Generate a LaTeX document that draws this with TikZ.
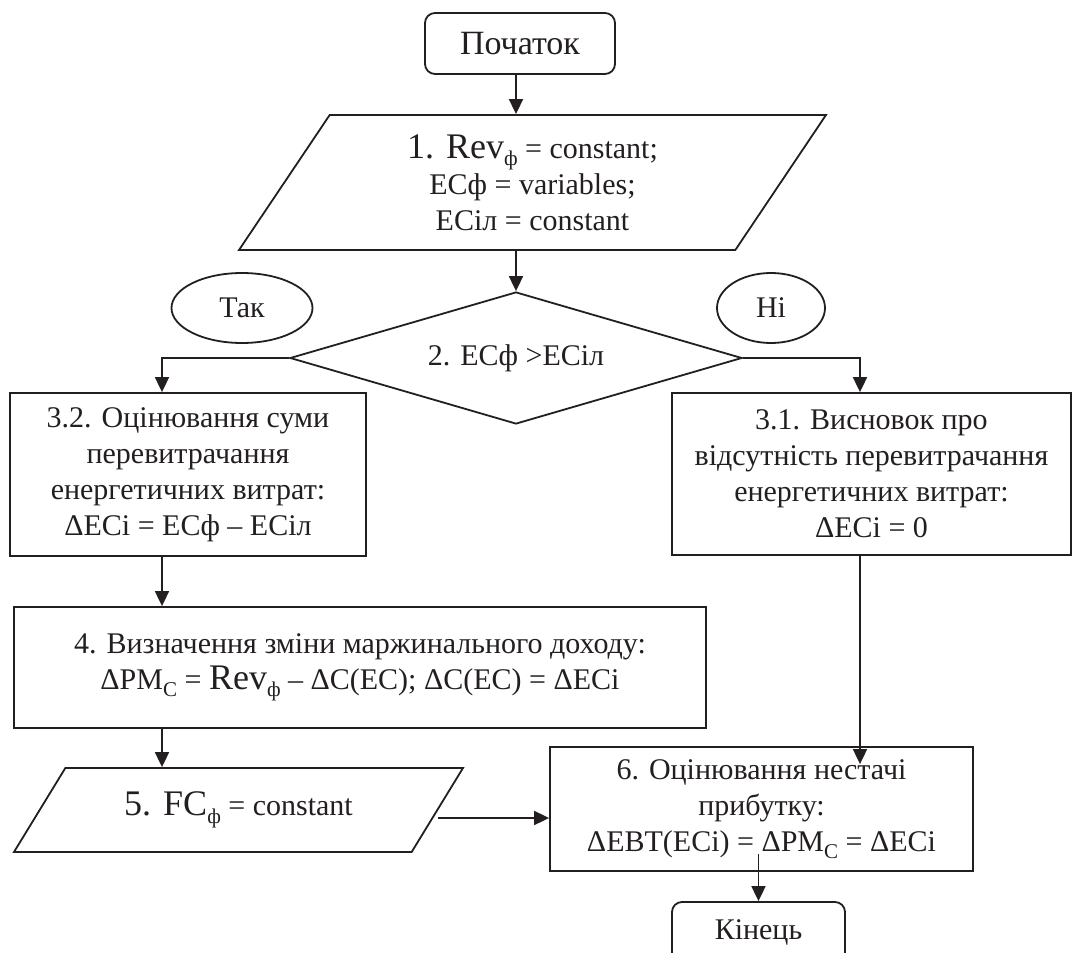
\documentclass[tikz,border=0pt]{standalone}
\usepackage{fontspec}
\setmainfont{Liberation Serif}
\usepackage{tikz}
\usetikzlibrary{arrows.meta,positioning,calc,shapes.geometric}
\definecolor{ecink}{HTML}{231F20}
\newcommand{\ecsub}[1]{\raisebox{-0.55ex}{\fontsize{10.5}{11}\selectfont #1}}
\newcommand{\ecbig}[1]{{\fontsize{18}{20}\selectfont #1}}
\tikzset{
  stepBox/.style={draw=ecink, line width=0.9pt, align=center, inner sep=3pt, text=ecink, font=\fontsize{15}{18}\selectfont},
  termBox/.style={stepBox, rounded corners=5pt},
  dataBox/.style={stepBox, trapezium, trapezium stretches body},
  condBox/.style={stepBox, diamond, aspect=3.42},
  tagBox/.style={stepBox, ellipse},
  flowArrow/.style={-{Triangle[length=7.5pt,width=7pt]}, line width=0.9pt, draw=ecink}
}

\begin{document}
\begin{tikzpicture}[x=0.5pt,y=-0.5pt]
  \useasboundingbox (0,0) rectangle (1073,953);
  \node[termBox, minimum width=95pt, minimum height=30.5pt, font=\fontsize{17}{20}\selectfont] (start) at (520,43.5) {Початок};
  \node[dataBox, trapezium left angle=50, trapezium right angle=130, minimum width=293.5pt, minimum height=67.5pt] (inp1) at (532.5,182.5) {\ecbig{1. Rev}\ecsub{ф} = constant;\\ECф = variables;\\ECіл = constant};
  \node[condBox, minimum width=226pt, minimum height=66pt] (cond) at (516,358) {2. ECф >ECіл};
  \node[tagBox, minimum width=70.5pt, minimum height=35pt] (yes) at (242,308) {Так};
  \node[tagBox, minimum width=54pt, minimum height=35pt] (no) at (771,308) {Ні};
  \node[stepBox, minimum width=178pt, minimum height=81.5pt] (sum) at (188,474.5) {3.2. Оцінювання суми\\перевитрачання\\енергетичних витрат:\\ΔECi = ECф – ECіл};
  \node[stepBox, minimum width=199.5pt, minimum height=81pt] (none) at (871.5,474) {3.1. Висновок про\\відсутність перевитрачання\\енергетичних витрат:\\ΔECi = 0};
  \node[stepBox, minimum width=346pt, minimum height=60.5pt] (margin) at (360,667.5) {4. Визначення зміни маржинального доходу:\\ΔPM\ecsub{C} = \ecbig{Rev}\ecsub{ф} – ΔC(EC); ΔC(EC) = ΔECi};
  \node[dataBox, trapezium left angle=43, trapezium right angle=137, minimum width=224.5pt, minimum height=42pt] (fixed) at (238.5,810) {\ecbig{5. FC}\ecsub{ф} = constant};
  \node[stepBox, minimum width=211.5pt, minimum height=62pt] (loss) at (761.5,809) {6. Оцінювання нестачі\\прибутку:\\ΔEBT(ECi) = ΔPM\ecsub{C} = ΔECi};
  \node[termBox, minimum width=86.5pt, minimum height=30.5pt] (stop) at (758.5,932.5) {Кінець};
  % columns of the two branches
  \coordinate (yesCol) at (162,0);
  \coordinate (noCol) at (860,0);
  \draw[flowArrow] (start.south -| cond.north) -- (inp1.north -| cond.north);
  \draw[flowArrow] (inp1.south -| cond.north) -- (cond.north);
  \draw[flowArrow] (cond.west) -| (sum.north -| yesCol);
  \draw[flowArrow] (cond.east) -| (none.north -| noCol);
  \draw[flowArrow] (sum.south -| yesCol) -- (margin.north -| yesCol);
  \draw[flowArrow] (margin.south -| yesCol) -- (fixed.north -| yesCol);
  \draw[flowArrow] ([yshift=-4pt]fixed.east) -- ([yshift=-4pt]fixed.east -| loss.west);
  \draw[flowArrow] (none.south -| noCol) -- ([yshift=-9pt]loss.north -| noCol);
  \draw[flowArrow] ([yshift=9pt]loss.south -| stop.north) -- (stop.north);
\end{tikzpicture}
\end{document}
